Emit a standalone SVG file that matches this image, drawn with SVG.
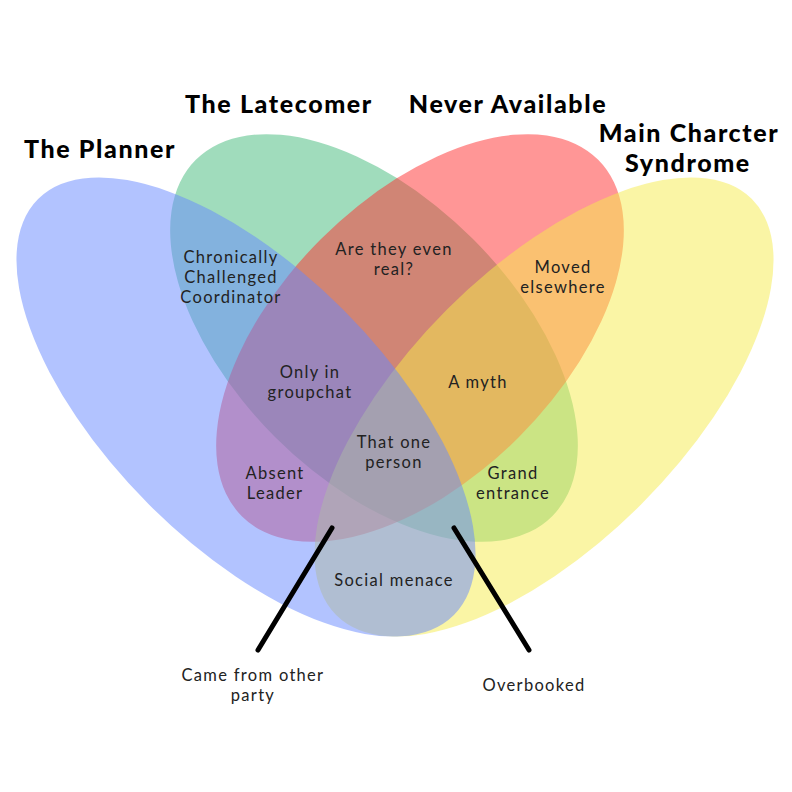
<svg xmlns="http://www.w3.org/2000/svg" width="792" height="792" viewBox="0 0 792 792">
<style>
.set{opacity:0.5}
.title{font-family:Lato,"Open Sans","Liberation Sans",sans-serif;font-weight:900;font-size:25px;letter-spacing:1.6px;fill:#000;text-anchor:middle}
.lbl{font-family:Lato,"Open Sans","Liberation Sans",sans-serif;font-size:16.5px;letter-spacing:1.3px;fill:#222;text-anchor:middle}
.conn{stroke:#000;stroke-width:5;stroke-linecap:round;fill:none}
</style>
<rect width="792" height="792" fill="#fff"/>
<g id="latecomer">
<ellipse class="set" cx="374" cy="338" rx="252" ry="140" transform="rotate(45 374 338)" fill="#41b979"/>
</g>
<g id="never-available">
<ellipse class="set" cx="420" cy="338" rx="252" ry="140" transform="rotate(-45 420 338)" fill="#ff2d2d"/>
</g>
<g id="main-character">
<ellipse class="set" cx="544" cy="407" rx="294" ry="137.6" transform="rotate(-45 544 407)" fill="#f5eb4b"/>
</g>
<g id="planner">
<ellipse class="set" cx="246" cy="407" rx="294" ry="137.6" transform="rotate(45 246 407)" fill="#6688ff"/>
</g>
<g id="titles">
<text class="title" x="100" y="158">The Planner</text>
<text class="title" x="279" y="113">The Latecomer</text>
<text class="title" x="508" y="113">Never Available</text>
<text class="title" x="689" y="142">Main Charcter</text>
<text class="title" x="688" y="172">Syndrome</text>
</g>
<g id="labels">
<text class="lbl" x="231" y="263">Chronically</text>
<text class="lbl" x="231" y="283">Challenged</text>
<text class="lbl" x="231" y="303">Coordinator</text>
<text class="lbl" x="394" y="255">Are they even</text>
<text class="lbl" x="394" y="275">real?</text>
<text class="lbl" x="563" y="273">Moved</text>
<text class="lbl" x="563" y="293">elsewhere</text>
<text class="lbl" x="310" y="378">Only in</text>
<text class="lbl" x="310" y="398">groupchat</text>
<text class="lbl" x="478" y="388">A myth</text>
<text class="lbl" x="394" y="448">That one</text>
<text class="lbl" x="394" y="468">person</text>
<text class="lbl" x="275" y="479">Absent</text>
<text class="lbl" x="275" y="499">Leader</text>
<text class="lbl" x="513" y="479">Grand</text>
<text class="lbl" x="513" y="499">entrance</text>
<text class="lbl" x="394" y="586">Social menace</text>
</g>
<g id="connectors">
<line class="conn" x1="332" y1="528" x2="258" y2="650"/>
<line class="conn" x1="454" y1="528" x2="529" y2="650"/>
</g>
<g id="callouts">
<text class="lbl" x="253" y="681">Came from other</text>
<text class="lbl" x="253" y="701">party</text>
<text class="lbl" x="534" y="691">Overbooked</text>
</g>
</svg>
